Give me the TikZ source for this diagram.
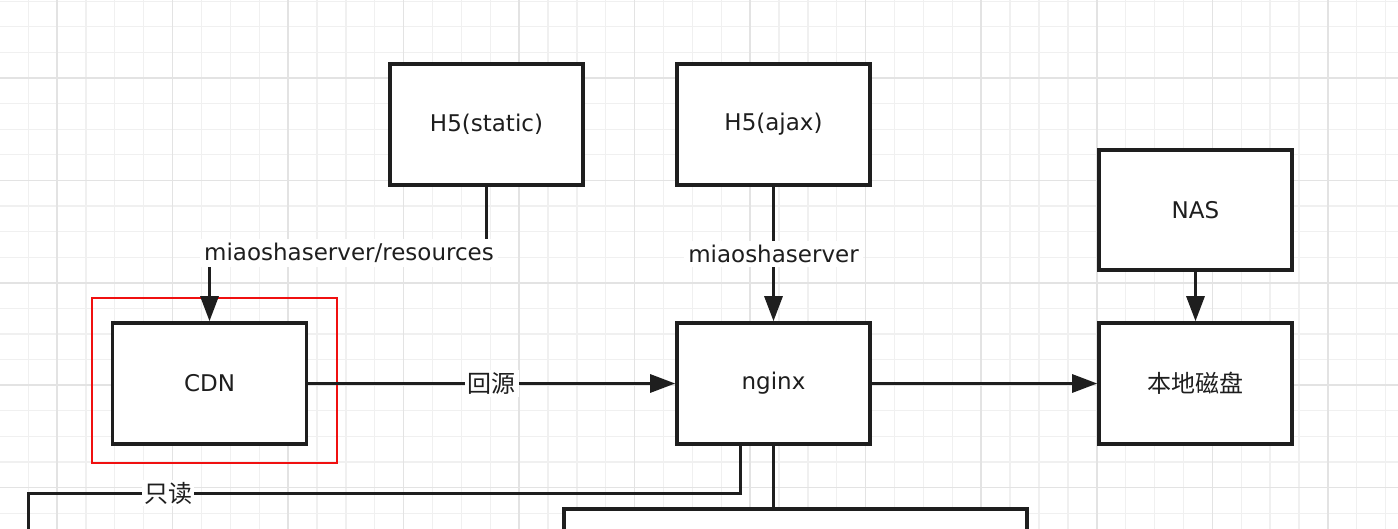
\documentclass[tikz,border=0pt]{standalone}
\usepackage{fontspec}
\setmainfont{DejaVu Sans}
\newfontfamily\cjk{Noto Sans CJK SC}
\usetikzlibrary{arrows.meta}
\definecolor{ink}{HTML}{1E1E1E}
\definecolor{minorgrid}{HTML}{F0F0F0}
\definecolor{majorgrid}{HTML}{E3E3E3}
\definecolor{hl}{HTML}{F01010}
\tikzset{
  box/.style={draw=ink, line width=3.6pt, fill=white, minimum width=193pt, minimum height=121pt, inner sep=0pt, font=\fontsize{23}{26}\selectfont, text=ink},
  conn/.style={draw=ink, line width=3pt},
  arr/.style={conn, -{Triangle[length=25pt,width=18pt]}},
  lbl/.style={fill=white, inner sep=4pt, font=\fontsize{23}{26}\selectfont, text=ink},
  clbl/.style={fill=white, inner sep=3pt, font=\cjk\fontsize{24}{27}\selectfont, text=ink},
}
\begin{document}
\begin{tikzpicture}[x=1pt,y=-1pt]
\useasboundingbox (0,0) rectangle (1398,529);
\clip (0,0) rectangle (1398,529);
\fill[white] (0,0) rectangle (1398,529);
% grid
\foreach \i in {0,...,49} {
  \draw[minorgrid, line width=1.3pt] ({-0.7+28.88*\i},0) -- ({-0.7+28.88*\i},529);
}
\foreach \j in {0,...,21} {
  \draw[minorgrid, line width=1.3pt] (0,{1.2+25.6*\j}) -- (1398,{1.2+25.6*\j});
}
\foreach \i in {0,...,12} {
  \draw[majorgrid, line width=1.5pt] ({-0.7+28.88*(4*\i+2)},0) -- ({-0.7+28.88*(4*\i+2)},529);
}
\foreach \j in {0,...,5} {
  \draw[majorgrid, line width=1.5pt] (0,{1.2+25.6*(4*\j+3)}) -- (1398,{1.2+25.6*(4*\j+3)});
}
% red highlight
\draw[hl, line width=2.2pt] (92,298) rectangle (337,463);
% boxes
\node[box] (hs) at (486.5,124.5) {H5(static)};
\node[box] (ha) at (773.5,124.5) {H5(ajax)};
\node[box, minimum height=120pt] (nas) at (1195.5,210) {NAS};
\node[box, minimum width=194pt] (cdn) at (209.5,383.5) {CDN};
\node[box] (ngx) at (773.5,383.5) {nginx};
\node[box, font=\cjk\fontsize{24}{27}\selectfont] (disk) at (1195.5,383.5) {本地磁盘};
\node[box, minimum width=463pt, minimum height=110pt, anchor=north west] (bot) at (562,507) {};
% coordinates
\coordinate (rbend) at (hs.south |- 0,253);
\coordinate (nl) at (740,0);
\coordinate (nr) at (773.5,0);
\coordinate (ro) at (28,560);
% connectors
\draw[arr] (hs.south) -- (rbend) -| (cdn.north);
\node[lbl] (lres) at (349,253) {miaoshaserver/resources};
\draw[arr] (ha.south) -- node[lbl] (lms) {miaoshaserver} (ngx.north);
\draw[arr] (nas.south) -- (disk.north);
\draw[arr] (cdn.east) -- node[clbl] (lhy) {回源} (ngx.west);
\draw[arr] (ngx.east) -- (disk.west);
\draw[conn] (ngx.south -| nl) -- (740,493) -- (28,493) -- (ro);
\node[clbl, inner sep=2pt] (lrd) at (168,493) {只读};
\draw[conn] (ngx.south -| nr) -- (bot.north -| nr);
\end{tikzpicture}
\end{document}
